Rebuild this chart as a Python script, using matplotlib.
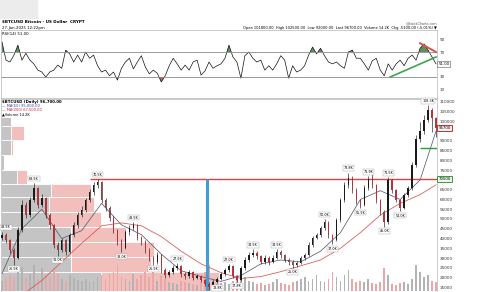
import numpy as np
import matplotlib
matplotlib.use("Agg")
import matplotlib.pyplot as plt
from matplotlib.patches import Rectangle

# $BTCUSD daily, sampled about every 13 days, prices in thousands of USD
closes = [41.8, 39.2, 34.1, 30.0, 44.4, 57.2, 52.1, 59.7, 65.9, 57.2,
          60.8, 52.1, 46.9, 36.7, 34.1, 39.2, 33.1, 41.8, 46.9, 52.1,
          54.6, 59.7, 63.8, 67.4, 69.0, 59.7, 55.6, 50.5, 44.4, 38.2,
          35.1, 43.3, 45.4, 46.9, 40.2, 38.2, 34.1, 30.0, 28.0, 31.5,
          23.9, 21.3, 22.8, 24.9, 25.9, 21.8, 20.8, 22.8, 19.7, 20.8,
          18.7, 16.7, 15.1, 17.7, 19.2, 21.8, 23.9, 25.9, 20.8, 18.7,
          24.9, 29.0, 31.5, 32.6, 31.0, 28.0, 30.0, 28.0, 30.0, 33.1,
          31.5, 29.0, 28.0, 26.4, 27.4, 30.0, 31.5, 36.7, 40.2, 41.8,
          45.4, 48.5, 41.8, 39.2, 49.5, 59.7, 67.4, 71.0, 64.9, 59.7,
          57.2, 65.9, 70.5, 67.4, 59.7, 53.6, 48.5, 70.0, 64.9, 59.7,
          55.6, 62.3, 65.9, 77.7, 90.8, 94.9, 100.8, 105.9, 101.8, 96.7]
highs = [43.5, 42.8, 40.0, 35.0, 46.0, 59.5, 58.5, 61.5, 68.5, 66.5,
         63.0, 61.5, 53.0, 47.5, 38.0, 40.5, 40.0, 43.0, 48.5, 53.5,
         56.5, 61.0, 65.5, 68.8, 70.5, 69.5, 61.0, 56.5, 51.5, 45.0,
         39.5, 44.5, 47.0, 48.5, 47.5, 41.5, 39.0, 35.0, 31.0, 33.0,
         32.0, 25.0, 24.0, 26.5, 27.5, 26.5, 23.0, 24.0, 23.5, 22.0,
         21.5, 19.5, 17.5, 18.8, 20.5, 23.0, 25.0, 27.0, 26.5, 21.5,
         26.0, 30.5, 33.0, 34.5, 33.5, 31.5, 31.5, 30.8, 31.5, 34.5,
         34.0, 32.0, 29.8, 28.8, 28.5, 31.0, 32.8, 38.0, 41.5, 43.0,
         46.5, 50.0, 49.0, 42.5, 50.5, 61.0, 69.0, 73.8, 72.0, 66.0,
         60.5, 67.5, 71.9, 73.0, 68.0, 60.5, 54.5, 71.5, 70.5, 65.5,
         60.0, 63.5, 67.0, 79.0, 93.0, 99.5, 103.5, 108.3, 107.0, 102.5]
lows = [39.0, 37.5, 32.8, 26.5, 29.5, 43.5, 50.5, 51.0, 58.5, 55.5,
        56.0, 50.5, 45.0, 35.0, 31.0, 33.0, 31.5, 32.5, 41.0, 45.5,
        51.0, 53.5, 58.5, 62.5, 66.0, 58.0, 54.0, 49.0, 43.0, 36.5,
        33.0, 34.5, 42.0, 44.5, 39.0, 36.5, 32.5, 28.5, 26.5, 27.0,
        22.5, 20.0, 20.5, 22.0, 24.0, 20.5, 19.5, 20.0, 18.5, 19.0,
        17.5, 15.5, 13.8, 14.5, 17.0, 18.5, 21.0, 23.0, 19.8, 17.8,
        18.0, 24.0, 28.0, 30.5, 29.5, 26.8, 27.0, 26.5, 27.2, 29.5,
        30.0, 28.0, 26.5, 25.0, 25.5, 26.8, 29.2, 31.0, 35.8, 39.5,
        41.0, 44.5, 40.5, 37.0, 38.5, 48.5, 58.5, 66.0, 63.5, 57.5,
        55.5, 56.5, 65.0, 66.0, 58.0, 52.0, 46.0, 47.5, 63.5, 58.5,
        54.0, 55.0, 61.5, 65.0, 76.5, 89.5, 93.5, 99.5, 94.5, 92.0]
first_open = 40.5

volume = [12, 14, 18, 16, 22, 28, 15, 20, 30, 14,
          26, 18, 16, 24, 20, 14, 12, 18, 15, 13,
          12, 14, 10, 12, 16, 18, 14, 20, 22, 30,
          16, 14, 12, 20, 14, 18, 22, 16, 28, 12,
          18, 14, 10, 9, 8, 12, 10, 9, 8, 7,
          10, 22, 30, 14, 8, 9, 10, 8, 12, 18,
          14, 16, 12, 10, 8, 9, 7, 8, 10, 14,
          9, 8, 7, 10, 12, 14, 16, 12, 14, 18,
          12, 10, 14, 22, 16, 12, 18, 24, 14, 10,
          12, 10, 14, 9, 8, 10, 26, 18, 8, 7,
          9, 10, 8, 14, 30, 22, 16, 18, 12, 10]

rsi = [86, 57, 54, 65, 81, 57, 68, 57, 51, 41,
       38, 30, 38, 41, 49, 44, 73, 67, 54, 65,
       54, 70, 60, 65, 48, 38, 41, 32, 38, 25,
       44, 54, 60, 43, 54, 64, 46, 35, 41, 36,
       22, 32, 48, 60, 51, 41, 49, 41, 54, 57,
       33, 40, 54, 44, 48, 51, 60, 81, 62, 54,
       28, 64, 70, 60, 54, 57, 41, 48, 41, 51,
       64, 57, 28, 48, 38, 41, 48, 65, 78, 67,
       76, 64, 54, 51, 54, 48, 44, 70, 73, 60,
       60, 51, 41, 56, 60, 41, 32, 51, 41, 51,
       57, 48, 60, 65, 57, 76, 83, 73, 62, 51]

# moving averages read every 5 points
ma_days = [0, 5, 10, 15, 20, 25, 30, 35, 40, 45, 50, 55, 60, 65, 70, 75,
           80, 85, 90, 95, 100, 105, 109]
ma50 = [22.0, 45.0, 55.0, 40.0, 44.0, 58.0, 47.0, 42.0, 32.0, 23.5, 20.5, 18.0,
        21.0, 27.0, 29.0, 28.0, 33.5, 43.0, 60.0, 64.5, 60.0, 70.0, 95.0]
ma200 = [8.0, 11.0, 18.5, 28.0, 37.5, 46.5, 48.0, 46.5, 41.0, 33.5, 27.0, 22.5,
         19.5, 20.5, 23.0, 26.0, 29.0, 35.0, 43.0, 52.0, 58.0, 62.5, 67.5]

# volume by price
vbp_edges = [13.1, 22.8, 30.5, 38.2, 45.9, 53.6, 61.3, 68.0, 75.1, 82.8, 90.5, 97.7, 102.3]
vbp_up = [100, 70, 70, 70, 48, 48, 50, 16, 3, 10, 10, 10]
vbp_down = [118, 80, 83, 55, 52, 45, 40, 10, 0, 2, 13, 0]

peak_idx = [0, 8, 24, 33, 44, 57, 63, 69, 81, 87, 92, 97, 107]
trough_idx = [3, 14, 30, 38, 52, 59, 73, 83, 90, 96, 100]

price_ticks = list(range(15, 111, 5))
rsi_ticks = [10, 30, 70, 90]
resist_idx = 24          # Nov-2021 top
bottom_day = 51.5        # Nov-2022 low
support_level = 86.6
rsi_up_line = ([97.5, 109], [30, 62])
rsi_down_line = ([105, 109], [84, 70])

W, H = 481, 292
def rect(x0, y0, x1, y1):
    return [x0 / W, 1 - y1 / H, (x1 - x0) / W, (y1 - y0) / H]

fig = plt.figure(figsize=(4.81, 2.92), dpi=100)
fig.patches.append(Rectangle((0, 1 - 18 / H), 37 / W, 18 / H, color='#ececec',
                             transform=fig.transFigure, zorder=0))

days = np.arange(len(closes))
opens = [first_open] + closes[:-1]
xlim = (-0.25, 109.25)
ylim = (13.1, 111.5)

# ---- RSI panel
ax_r = fig.add_axes(rect(1, 30, 437, 98))
r = np.array(rsi, dtype=float)
ax_r.plot(days, r, color='#111111', lw=0.5)
ax_r.fill_between(days, r, 70, where=r >= 70, interpolate=True, color='#5f8f5f', lw=0)
ax_r.fill_between(days, r, 30, where=r <= 30, interpolate=True, color='#c85a5a', lw=0)
ax_r.axhline(70, color='#8a8a8a', lw=0.6)
ax_r.axhline(30, color='#8a8a8a', lw=0.6)
ax_r.plot(*rsi_up_line, color='#3fa34d', lw=1.2)
ax_r.plot(*rsi_down_line, color='#d9534f', lw=1.4)
ax_r.set_xlim(*xlim)
ax_r.set_ylim(-3.6, 105.2)
ax_r.yaxis.tick_right()
ax_r.set_yticks(rsi_ticks)
ax_r.set_xticks([])
ax_r.tick_params(axis='y', length=0, pad=2, labelsize=3, labelcolor='#333333')
ax_r.text(1.003, rsi[-1], f"{rsi[-1]:.2f}", transform=ax_r.get_yaxis_transform(),
          fontsize=2.8, va='center', ha='left',
          bbox=dict(boxstyle='square,pad=0.25', fc='white', ec='#555555', lw=0.4))
for s in ax_r.spines.values():
    s.set_color('#b5b5b5')
    s.set_linewidth(0.5)

# ---- main panel: volume by price (back), volume, price (front)
main_rect = rect(1, 99, 437, 291)
ax_vbp = fig.add_axes(main_rect, zorder=1)
ax_vol = fig.add_axes(main_rect, zorder=2)
ax = fig.add_axes(main_rect, zorder=3)

heights = np.diff(vbp_edges)
ax_vbp.barh(vbp_edges[:-1], vbp_up, height=heights, align='edge',
            color='#c4c4c4', edgecolor='white', linewidth=0.6)
ax_vbp.barh(vbp_edges[:-1], vbp_down, left=vbp_up, height=heights, align='edge',
            color='#f3bfbd', edgecolor='white', linewidth=0.6)
ax_vbp.set_xlim(0, 436)
ax_vbp.set_ylim(*ylim)
ax_vbp.axis('off')

vol_colors = ['#b3b3b3' if c >= o else '#eaa7a7' for o, c in zip(opens, closes)]
ax_vol.bar(days, volume, width=0.45, color=vol_colors)
ax_vol.set_xlim(*xlim)
ax_vol.set_ylim(0, 220)
ax_vol.axis('off')

ax.patch.set_alpha(0)
body_lo = np.minimum(opens, closes)
body_h = np.abs(np.array(closes) - np.array(opens))
candle_colors = ['#1a1a1a' if c >= o else '#b8323a' for o, c in zip(opens, closes)]
ax.vlines(days, lows, highs, color='#1a1a1a', lw=0.45, zorder=3)
ax.bar(days, body_h, bottom=body_lo, width=0.38, color=candle_colors, zorder=4)
ax.plot(ma_days, ma50, color='#5c5c6e', lw=0.55, zorder=2)
ax.plot(ma_days, ma200, color='#d9534f', lw=0.55, zorder=2)

level = highs[resist_idx]
ax.hlines(level, resist_idx - 2, xlim[1], color='#d64541', lw=1.0, zorder=2)
ax.vlines(bottom_day, ylim[0], level, color='#3c9fd6', lw=2.2, zorder=2)
ax.hlines(support_level, 105, xlim[1], color='#2ca02c', lw=1.0, zorder=2)

box = dict(boxstyle='square,pad=0.25', fc='white', ec='#a0a0a0', lw=0.3)
for i in peak_idx:
    ha = 'left' if i < 2 else 'center'
    ax.text(i - (0.2 if i < 2 else 0), highs[i] + 1.2, f"{highs[i]:.1f}K",
            fontsize=2.4, ha=ha, va='bottom', bbox=box, zorder=6)
for i in trough_idx:
    if lows[i] - 4 < ylim[0]:
        # too close to the bottom edge: put it beside the candle
        ax.text(i + 0.8, lows[i] + 1.0, f"{lows[i]:.1f}K", fontsize=2.4,
                ha='left', va='center', bbox=box, zorder=6)
    else:
        ax.text(i, lows[i] - 1.2, f"{lows[i]:.1f}K", fontsize=2.4, ha='center',
                va='top', bbox=box, zorder=6)

# tick labels hidden under the boxed price labels are left out, as on the source
boxed = [closes[-1], level]
shown = [v for v in price_ticks if min(abs(v - b) for b in boxed) > 2.6]
ax.set_xlim(*xlim)
ax.set_ylim(*ylim)
ax.yaxis.tick_right()
ax.set_yticks(shown)
ax.set_yticklabels([f"{v * 1000:.0f}" for v in shown])
ax.set_xticks([])
ax.tick_params(axis='y', length=0, pad=2, labelsize=3, labelcolor='#333333')
for s in ax.spines.values():
    s.set_color('#b5b5b5')
    s.set_linewidth(0.5)
ax.spines['bottom'].set_visible(False)

yt = ax.get_yaxis_transform()
ax.text(1.003, closes[-1], f"{closes[-1] * 1000:.0f}", transform=yt, fontsize=2.8,
        va='center', ha='left', zorder=7,
        bbox=dict(boxstyle='square,pad=0.3', fc='#f3f3f3', ec='#d62728', lw=0.7))
ax.text(1.003, level, f"{level * 1000:.0f}", transform=yt, fontsize=2.8,
        va='center', ha='left', zorder=7,
        bbox=dict(boxstyle='square,pad=0.3', fc='#f3f3f3', ec='#2ca02c', lw=0.7))

# ---- header texts
def ftext(x, y, s, **kw):
    fig.text(x / W, 1 - y / H, s, va='center', **kw)

ftext(2, 22, "$BTCUSD Bitcoin - US Dollar  CRYPT", fontsize=3, weight='bold')
ftext(2, 28, "27-Jan-2025 12:22pm", fontsize=2.8)
ftext(2, 34, f"RSI(14) {rsi[-1]:.2f}", fontsize=2.8)
ftext(437, 23, "@StockCharts.com", fontsize=2.4, ha='right', color='#555555')
ftext(437, 28, f"Open {closes[-2] * 1000:.2f}  High {highs[-1] * 1000:.2f}  "
      f"Low {lows[-1] * 1000:.2f}  Last {closes[-1] * 1000:.2f}  Volume 14.2K  "
      f"Chg -5100.00 (-5.01%) \u25bc", fontsize=2.6, ha='right')

ftext(2, 102, f"$BTCUSD (Daily) {closes[-1] * 1000:,.2f}", fontsize=2.8, weight='bold')
ftext(2, 106, f"\u2014 MA(50) {ma50[-1] * 1000:,.2f}", fontsize=2.6, color='#3b3bb3')
ftext(2, 110, f"\u2014 MA(200) {ma200[-1] * 1000:,.2f}", fontsize=2.6, color='#cc2222')
ftext(2, 114, "\u25b2Volume 14.2K", fontsize=2.6)

fig.savefig("out.png", dpi=100)
